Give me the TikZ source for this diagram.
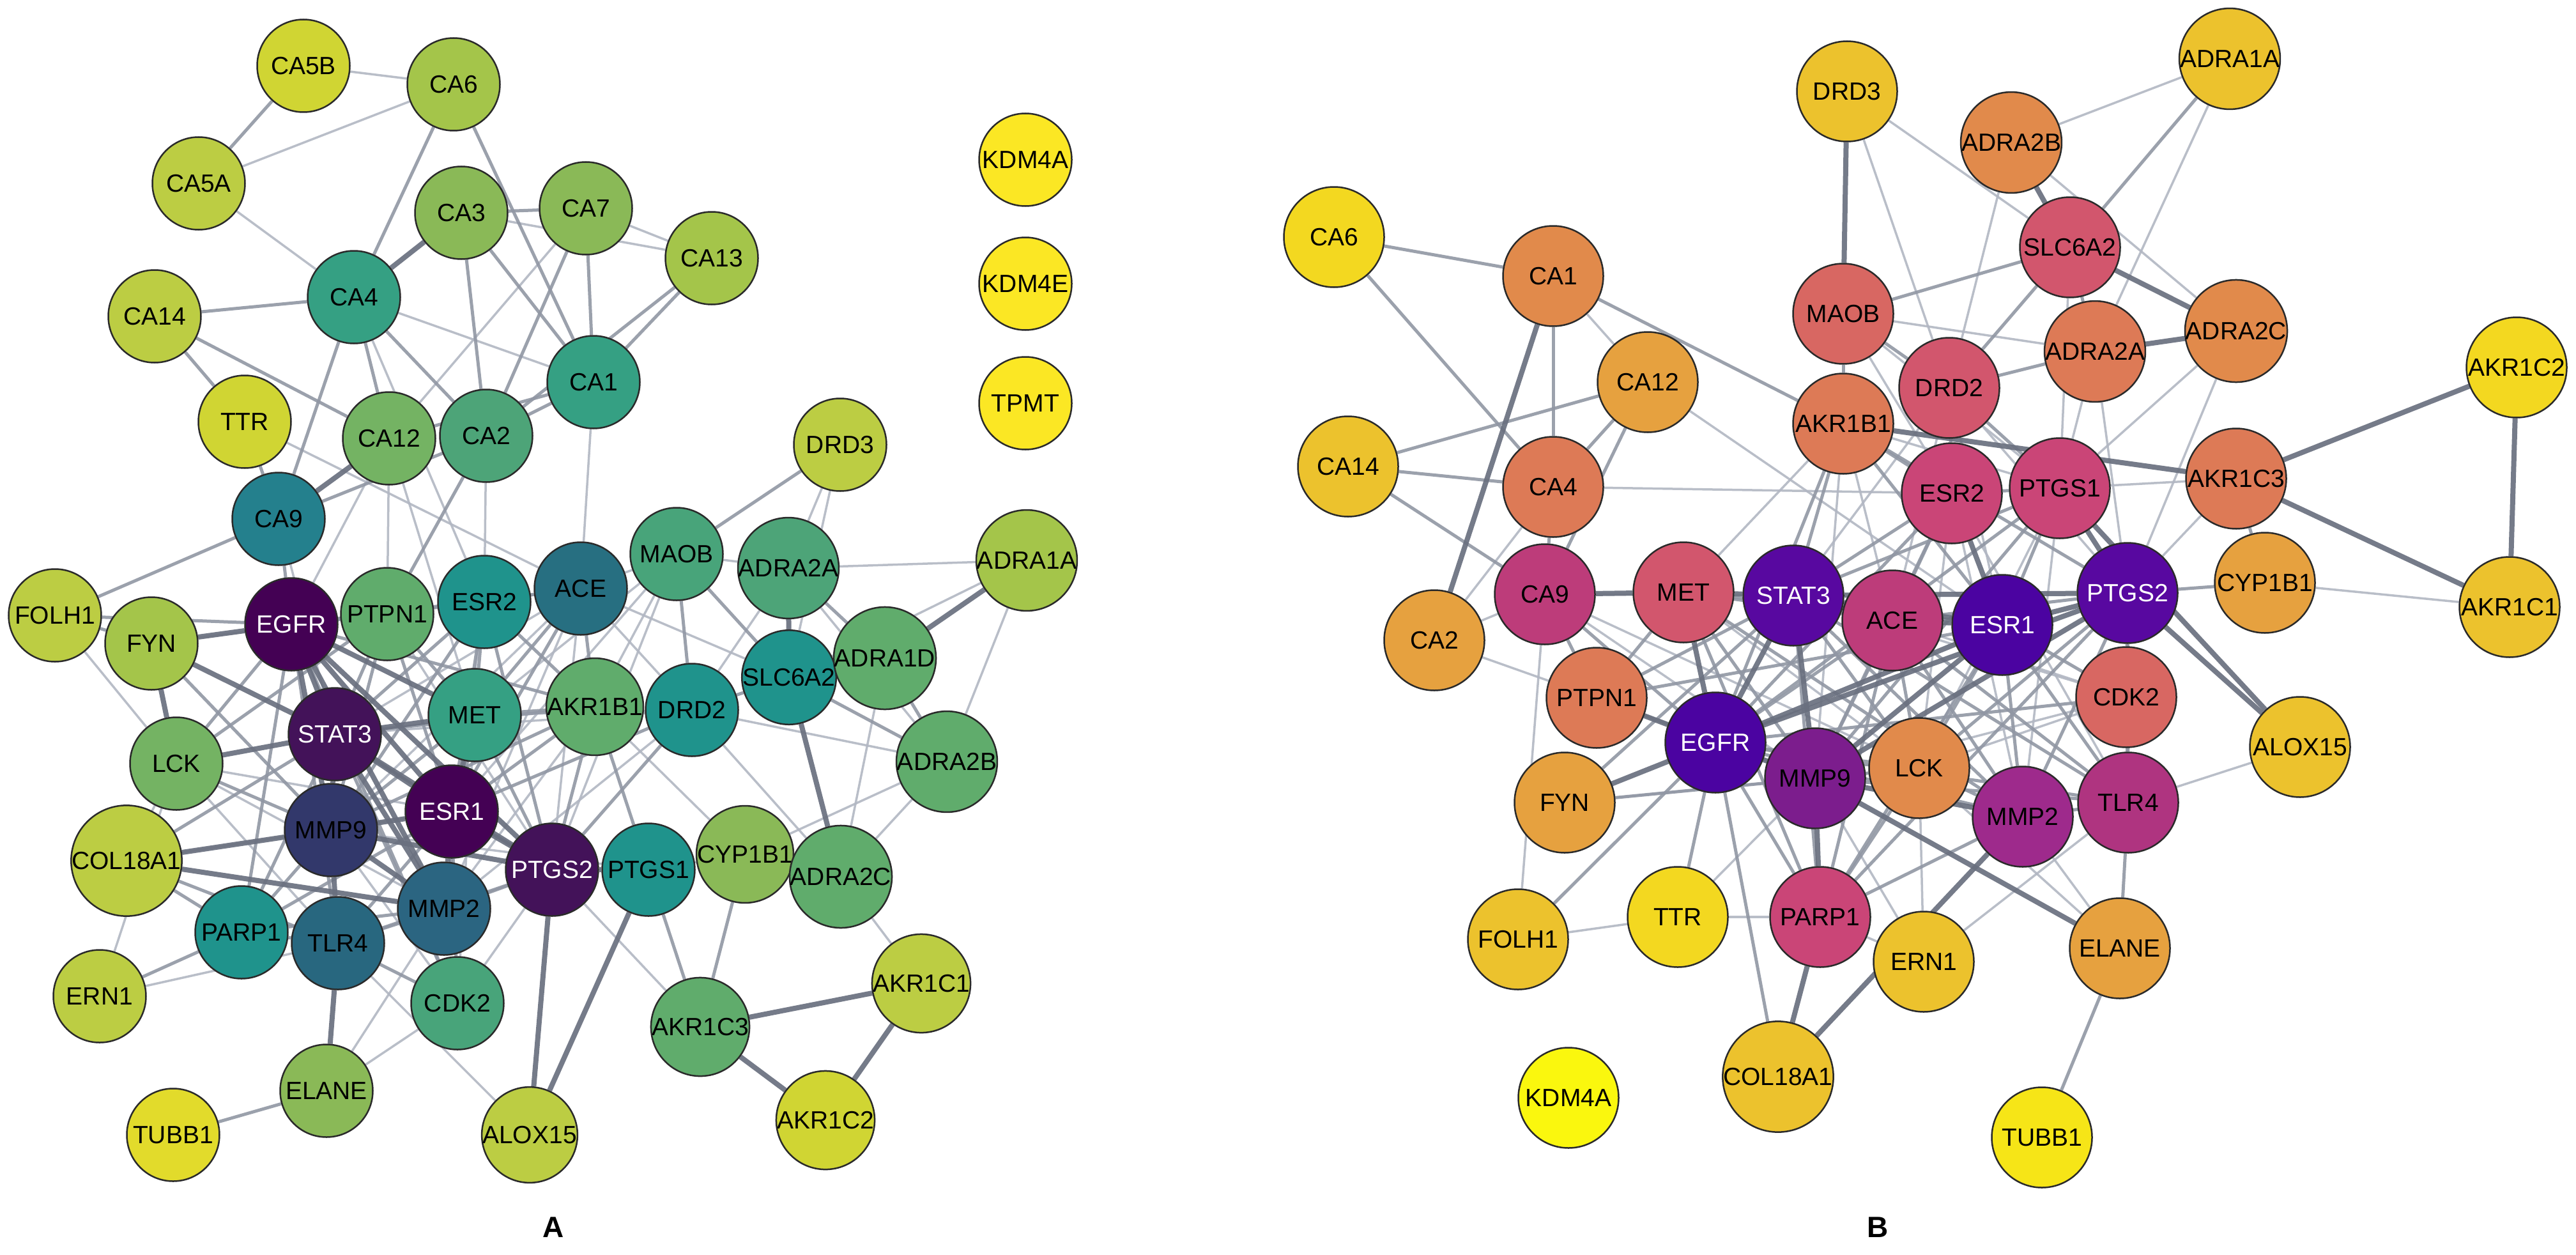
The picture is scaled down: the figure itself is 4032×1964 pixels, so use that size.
\documentclass[tikz,border=0pt]{standalone}
\usepackage{fontspec}
\setmainfont{Liberation Sans}
\newfontfamily\nfam{Liberation Sans}
\newcommand\nfnt{\nfam\fontsize{39}{39}\selectfont}
\newcommand\lfnt{\nfam\bfseries\fontsize{46}{46}\selectfont}
\pgfdeclarelayer{background}
\pgfdeclarelayer{canvas}
\pgfsetlayers{canvas,background,main}
% panel A colours (viridis)
\definecolor{vA}{HTML}{440154}
\definecolor{vB}{HTML}{431259}
\definecolor{vMMP9}{HTML}{32386B}
\definecolor{vMMP2}{HTML}{2B6581}
\definecolor{vACE}{HTML}{276F81}
\definecolor{vTLR4}{HTML}{28677F}
\definecolor{vCA9}{HTML}{24808D}
\definecolor{vTeal}{HTML}{1F938C}
\definecolor{vCA4}{HTML}{35A083}
\definecolor{vCDK2}{HTML}{48A47A}
\definecolor{vCA2}{HTML}{4DA478}
\definecolor{vGr}{HTML}{60AC6C}
\definecolor{vLCK}{HTML}{74B363}
\definecolor{vCA3}{HTML}{8AB957}
\definecolor{vLime}{HTML}{A4C54A}
\definecolor{vOl}{HTML}{BCCD43}
\definecolor{vYl}{HTML}{D0D533}
\definecolor{vTU}{HTML}{E2DB2B}
\definecolor{vKD}{HTML}{FBE724}
% panel B colours (plasma)
\definecolor{pA}{HTML}{4B03A1}
\definecolor{pB}{HTML}{5808A0}
\definecolor{pMMP9}{HTML}{7C1D8D}
\definecolor{pMMP2}{HTML}{9E2A8C}
\definecolor{pTLR4}{HTML}{AF3480}
\definecolor{pCA9}{HTML}{BD3C7A}
\definecolor{pPink}{HTML}{CA4577}
\definecolor{pRose}{HTML}{D2566D}
\definecolor{pSal}{HTML}{D86762}
\definecolor{pCor}{HTML}{DD7A56}
\definecolor{pOr}{HTML}{E18A4B}
\definecolor{pOr2}{HTML}{E6A13F}
\definecolor{pGold}{HTML}{ECC22D}
\definecolor{pYl}{HTML}{F3D820}
\definecolor{pTU}{HTML}{F6E517}
\definecolor{pKD}{HTML}{FAF70E}
\definecolor{nodeline}{HTML}{2A2A2A}
\definecolor{eTc}{RGB}{178,183,195}
\definecolor{eMc}{RGB}{145,151,164}
\definecolor{eKc}{RGB}{106,112,127}
\tikzset{
  nA/.style={circle, draw=nodeline, line width=2.5pt, minimum size=145pt, inner sep=0pt, font=\nfnt, text=black},
  nB/.style={circle, draw=nodeline, line width=2.5pt, minimum size=157pt, inner sep=0pt, font=\nfnt, text=black},
  wt/.style={text=white},
  eT/.style={line width=3.5pt, color=eTc, opacity=0.9},
  eM/.style={line width=5pt, color=eMc, opacity=0.9},
  eK/.style={line width=8pt, color=eKc, opacity=0.92},
  plabel/.style={font=\lfnt, text=black}
}
\begin{document}
\begin{tikzpicture}[x=1pt,y=-1pt]
\useasboundingbox (0,0) rectangle (4032,1964);
\begin{pgfonlayer}{canvas}
\fill[white] (0,0) rectangle (4032,1964);
\end{pgfonlayer}
% ---------------- Panel A nodes ----------------
\node[nA, fill=vYl] (aCA5B) at (475,103) {CA5B};
\node[nA, fill=vLime] (aCA6) at (710,132) {CA6};
\node[nA, fill=vOl] (aCA5A) at (311,287) {CA5A};
\node[nA, fill=vCA3] (aCA3) at (722,333) {CA3};
\node[nA, fill=vCA3] (aCA7) at (917,326) {CA7};
\node[nA, fill=vLime] (aCA13) at (1114,404) {CA13};
\node[nA, fill=vCA4] (aCA4) at (554,465) {CA4};
\node[nA, fill=vOl] (aCA14) at (242,495) {CA14};
\node[nA, fill=vCA4] (aCA1) at (929,598) {CA1};
\node[nA, fill=vYl] (aTTR) at (383,660) {TTR};
\node[nA, fill=vLCK] (aCA12) at (609,686) {CA12};
\node[nA, fill=vCA2] (aCA2) at (761,682) {CA2};
\node[nA, fill=vCA9] (aCA9) at (436,812) {CA9};
\node[nA, fill=vKD] (aKDM4A) at (1605,250) {KDM4A};
\node[nA, fill=vKD] (aKDM4E) at (1605,444) {KDM4E};
\node[nA, fill=vKD] (aTPMT) at (1605,631) {TPMT};
\node[nA, fill=vOl] (aDRD3) at (1315,696) {DRD3};
\node[nA, fill=vCDK2] (aMAOB) at (1059,867) {MAOB};
\node[nA, fill=vCA2] (aADRA2A) at (1234,889) {ADRA2A};
\node[nA, fill=vLime] (aADRA1A) at (1607,877) {ADRA1A};
\node[nA, fill=vOl] (aFOLH1) at (86,963) {FOLH1};
\node[nA, fill=vLime] (aFYN) at (237,1007) {FYN};
\node[nA, fill=vA, wt] (aEGFR) at (456,977) {EGFR};
\node[nA, fill=vGr] (aPTPN1) at (606,961) {PTPN1};
\node[nA, fill=vTeal] (aESR2) at (758,942) {ESR2};
\node[nA, fill=vACE] (aACE) at (909,921) {ACE};
\node[nA, fill=vB, wt] (aSTAT3) at (524,1149) {STAT3};
\node[nA, fill=vCA4] (aMET) at (743,1119) {MET};
\node[nA, fill=vGr] (aAKR1B1) at (931,1106) {AKR1B1};
\node[nA, fill=vTeal] (aSLC6A2) at (1235,1060) {SLC6A2};
\node[nA, fill=vGr] (aADRA1D) at (1385,1030) {ADRA1D};
\node[nA, fill=vTeal] (aDRD2) at (1083,1111) {DRD2};
\node[nA, fill=vGr] (aADRA2B) at (1482,1192) {ADRA2B};
\node[nA, fill=vLCK] (aLCK) at (276,1195) {LCK};
\node[nA, fill=vA, wt] (aESR1) at (707,1270) {ESR1};
\node[nA, fill=vMMP9] (aMMP9) at (518,1299) {MMP9};
\node[nA, fill=vOl] (aCOL18A1) at (198,1347) {COL18A1};
\node[nA, fill=vB, wt] (aPTGS2) at (864,1361) {PTGS2};
\node[nA, fill=vTeal] (aPTGS1) at (1015,1361) {PTGS1};
\node[nA, fill=vCA3] (aCYP1B1) at (1166,1337) {CYP1B1};
\node[nA, fill=vGr] (aADRA2C) at (1316,1372) {ADRA2C};
\node[nA, fill=vMMP2] (aMMP2) at (695,1422) {MMP2};
\node[nA, fill=vTeal] (aPARP1) at (378,1459) {PARP1};
\node[nA, fill=vTLR4] (aTLR4) at (529,1476) {TLR4};
\node[nA, fill=vOl] (aERN1) at (156,1559) {ERN1};
\node[nA, fill=vCDK2] (aCDK2) at (716,1570) {CDK2};
\node[nA, fill=vOl] (aAKR1C1) at (1442,1539) {AKR1C1};
\node[nA, fill=vGr] (aAKR1C3) at (1096,1607) {AKR1C3};
\node[nA, fill=vCA3] (aELANE) at (511,1707) {ELANE};
\node[nA, fill=vTU] (aTUBB1) at (271,1776) {TUBB1};
\node[nA, fill=vOl] (aALOX15) at (829,1776) {ALOX15};
\node[nA, fill=vYl] (aAKR1C2) at (1292,1753) {AKR1C2};
% ---------------- Panel B nodes ----------------
\node[nB, fill=pGold] (bDRD3) at (2891,143) {DRD3};
\node[nB, fill=pGold] (bADRA1A) at (3490,92) {ADRA1A};
\node[nB, fill=pOr] (bADRA2B) at (3148,223) {ADRA2B};
\node[nB, fill=pYl] (bCA6) at (2088,371) {CA6};
\node[nB, fill=pRose] (bSLC6A2) at (3240,387) {SLC6A2};
\node[nB, fill=pOr] (bCA1) at (2431,432) {CA1};
\node[nB, fill=pSal] (bMAOB) at (2885,491) {MAOB};
\node[nB, fill=pOr] (bADRA2C) at (3500,518) {ADRA2C};
\node[nB, fill=pCor] (bADRA2A) at (3279,550) {ADRA2A};
\node[nB, fill=pYl] (bAKR1C2) at (3939,575) {AKR1C2};
\node[nB, fill=pOr2] (bCA12) at (2579,598) {CA12};
\node[nB, fill=pRose] (bDRD2) at (3051,607) {DRD2};
\node[nB, fill=pCor] (bAKR1B1) at (2885,663) {AKR1B1};
\node[nB, fill=pGold] (bCA14) at (2110,730) {CA14};
\node[nB, fill=pCor] (bCA4) at (2431,762) {CA4};
\node[nB, fill=pCor] (bAKR1C3) at (3500,749) {AKR1C3};
\node[nB, fill=pPink] (bPTGS1) at (3224,764) {PTGS1};
\node[nB, fill=pPink] (bESR2) at (3055,772) {ESR2};
\node[nB, fill=pOr2] (bCYP1B1) at (3545,912) {CYP1B1};
\node[nB, fill=pCA9] (bCA9) at (2418,930) {CA9};
\node[nB, fill=pRose] (bMET) at (2635,927) {MET};
\node[nB, fill=pB, wt] (bSTAT3) at (2807,932) {STAT3};
\node[nB, fill=pB, wt] (bPTGS2) at (3330,928) {PTGS2};
\node[nB, fill=pGold] (bAKR1C1) at (3928,950) {AKR1C1};
\node[nB, fill=pCA9] (bACE) at (2962,971) {ACE};
\node[nB, fill=pA, wt] (bESR1) at (3134,978) {ESR1};
\node[nB, fill=pOr2] (bCA2) at (2245,1002) {CA2};
\node[nB, fill=pCor] (bPTPN1) at (2499,1092) {PTPN1};
\node[nB, fill=pSal] (bCDK2) at (3328,1091) {CDK2};
\node[nB, fill=pA, wt] (bEGFR) at (2685,1162) {EGFR};
\node[nB, fill=pGold] (bALOX15) at (3600,1169) {ALOX15};
\node[nB, fill=pOr] (bLCK) at (3004,1202) {LCK};
\node[nB, fill=pMMP9] (bMMP9) at (2841,1218) {MMP9};
\node[nB, fill=pOr2] (bFYN) at (2449,1256) {FYN};
\node[nB, fill=pTLR4] (bTLR4) at (3331,1256) {TLR4};
\node[nB, fill=pMMP2] (bMMP2) at (3166,1278) {MMP2};
\node[nB, fill=pYl] (bTTR) at (2626,1435) {TTR};
\node[nB, fill=pPink] (bPARP1) at (2849,1435) {PARP1};
\node[nB, fill=pGold] (bFOLH1) at (2376,1470) {FOLH1};
\node[nB, fill=pOr2] (bELANE) at (3318,1484) {ELANE};
\node[nB, fill=pGold] (bERN1) at (3011,1505) {ERN1};
\node[nB, fill=pGold] (bCOL18A1) at (2783,1685) {COL18A1};
\node[nB, fill=pKD] (bKDM4A) at (2455,1718) {KDM4A};
\node[nB, fill=pTU] (bTUBB1) at (3196,1780) {TUBB1};
% panel labels
\node[plabel] (labA) at (866,1921) {A};
\node[plabel] (labB) at (2939,1921) {B};
% ---------------- edges ----------------
\begin{pgfonlayer}{background}
% Panel A thin
\foreach \u/\v in {aCA5B/aCA6, aCA5A/aCA6, aCA5A/aCA4, aCA3/aCA13, aCA7/aCA12, aCA4/aCA1, aCA4/aESR2, aTTR/aACE, aCA1/aACE, aCA12/aPTPN1, aCA2/aESR2, aCA9/aSTAT3, aCA12/aMET, aCA7/aCA13, aDRD3/aADRA2A, aDRD3/aSLC6A2, aMAOB/aADRA2A, aADRA2A/aADRA1A, aMAOB/aACE, aMAOB/aAKR1B1, aADRA2A/aDRD2, aADRA2A/aADRA2B, aADRA1A/aSLC6A2, aADRA1A/aADRA2B, aSLC6A2/aACE, aADRA1D/aADRA2C, aADRA2B/aADRA2C, aADRA2B/aCYP1B1, aADRA2B/aDRD2, aDRD2/aADRA2C, aAKR1B1/aCYP1B1, aPTGS1/aCYP1B1, aPTGS2/aAKR1C3, aADRA2C/aAKR1C1, aCYP1B1/aADRA2C, aFOLH1/aLCK, aLCK/aCOL18A1, aLCK/aESR1, aLCK/aTLR4, aERN1/aTLR4, aERN1/aLCK, aELANE/aMMP2, aALOX15/aTLR4, aCDK2/aPTGS2, aACE/aESR2, aACE/aPTGS2, aACE/aSTAT3, aMAOB/aESR1, aDRD2/aMET, aMAOB/aMET, aELANE/aCDK2, aCA12/aEGFR, aACE/aMMP2, aDRD2/aMMP2, aPTGS1/aMMP9, aMMP9/aACE, aMMP2/aAKR1B1, aMMP9/aCDK2, aFYN/aPTPN1, aESR2/aMMP2, aPTPN1/aPTGS2, aACE/aDRD2, aMET/aCDK2, aMAOB/aPTGS2, aCOL18A1/aESR1, aLCK/aMMP2, aDRD2/aSTAT3}
  \draw[eT] (\u) -- (\v);
% Panel A medium
\foreach \u/\v in {aCA5B/aCA5A, aCA6/aCA4, aCA6/aCA1, aCA3/aCA7, aCA3/aCA2, aCA3/aCA1, aCA7/aCA1, aCA7/aCA2, aCA13/aCA1, aCA13/aCA2, aCA4/aCA14, aCA4/aCA2, aCA4/aCA12, aCA4/aCA9, aCA14/aTTR, aCA14/aCA12, aCA2/aCA1, aCA12/aCA1, aCA9/aCA2, aCA2/aPTPN1, aCA9/aFOLH1, aCA9/aTTR, aCA9/aEGFR, aDRD3/aMAOB, aMAOB/aSLC6A2, aMAOB/aDRD2, aADRA2A/aADRA1D, aSLC6A2/aADRA1D, aSLC6A2/aADRA2B, aSLC6A2/aDRD2, aADRA1D/aADRA2B, aAKR1B1/aPTGS1, aPTGS1/aAKR1C3, aCYP1B1/aAKR1C3, aFOLH1/aFYN, aFOLH1/aEGFR, aEGFR/aPTPN1, aEGFR/aLCK, aLCK/aPTPN1, aERN1/aPARP1, aPARP1/aEGFR, aTLR4/aMMP2, aTLR4/aCDK2, aELANE/aTUBB1, aPTGS2/aMMP2, aESR1/aESR2, aESR1/aACE, aESR1/aAKR1B1, aMET/aPTPN1, aMET/aACE, aMET/aESR2, aAKR1B1/aPTGS2, aDRD2/aPTGS2, aPARP1/aTLR4, aPARP1/aMMP9, aPARP1/aESR1, aCDK2/aESR1, aCDK2/aSTAT3, aDRD2/aESR1, aAKR1B1/aMET, aSTAT3/aESR2, aEGFR/aESR2, aTLR4/aPTGS2, aEGFR/aTLR4, aEGFR/aCDK2, aCOL18A1/aTLR4, aCOL18A1/aPARP1, aSTAT3/aPTPN1, aMET/aPTGS2, aEGFR/aAKR1B1, aEGFR/aACE, aSTAT3/aAKR1B1, aMMP9/aMET, aMMP9/aAKR1B1, aMMP2/aMET, aTLR4/aESR1, aPARP1/aSTAT3, aPARP1/aMMP2, aLCK/aMMP9, aFYN/aMMP9, aCOL18A1/aSTAT3, aESR2/aPTGS2, aPTPN1/aESR1, aPTPN1/aMMP9, aAKR1B1/aESR2, aACE/aAKR1B1, aESR2/aMMP9}
  \draw[eM] (\u) -- (\v);
% Panel A thick
\foreach \u/\v in {aCA3/aCA4, aCA9/aCA12, aADRA2A/aSLC6A2, aADRA1A/aADRA1D, aSLC6A2/aADRA2C, aAKR1C3/aAKR1C1, aAKR1C3/aAKR1C2, aAKR1C1/aAKR1C2, aPTGS1/aALOX15, aPTGS2/aALOX15, aFYN/aEGFR, aFYN/aLCK, aFYN/aSTAT3, aEGFR/aSTAT3, aEGFR/aMET, aEGFR/aESR1, aEGFR/aMMP9, aEGFR/aPTGS2, aEGFR/aMMP2, aLCK/aSTAT3, aCOL18A1/aMMP9, aCOL18A1/aMMP2, aMMP9/aTLR4, aMMP9/aMMP2, aMMP9/aESR1, aMMP9/aSTAT3, aMMP9/aPTGS2, aTLR4/aELANE, aSTAT3/aMET, aSTAT3/aESR1, aSTAT3/aMMP2, aSTAT3/aPTGS2, aESR1/aMET, aESR1/aMMP2, aESR1/aPTGS2, aPTGS2/aPTGS1}
  \draw[eK] (\u) -- (\v);
% Panel B thin
\foreach \u/\v in {bCA1/bCA12, bCA12/bESR1, bCA4/bESR2, bCA4/bCA2, bCA9/bCA2, bDRD3/bDRD2, bDRD3/bSLC6A2, bMAOB/bADRA2A, bAKR1B1/bMET, bADRA1A/bADRA2B, bADRA1A/bADRA2A, bADRA2B/bDRD2, bADRA2B/bADRA2C, bSLC6A2/bPTGS1, bADRA2A/bPTGS1, bADRA2A/bPTGS2, bADRA2C/bPTGS1, bADRA2C/bPTGS2, bAKR1C3/bPTGS1, bAKR1C3/bPTGS2, bCYP1B1/bAKR1C1, bCA2/bPTPN1, bCA9/bFOLH1, bFOLH1/bTTR, bTTR/bPARP1, bTTR/bMMP9, bPARP1/bERN1, bERN1/bTLR4, bELANE/bMMP2, bTLR4/bALOX15, bCA9/bLCK, bDRD2/bACE, bMAOB/bESR2, bAKR1B1/bACE, bMAOB/bPTGS1, bAKR1B1/bPTGS1, bDRD2/bSTAT3, bESR2/bMMP2, bPTGS1/bLCK, bERN1/bMMP9, bELANE/bLCK, bCDK2/bMMP9, bCA9/bMMP9, bDRD2/bESR1, bERN1/bLCK, bCDK2/bSTAT3, bACE/bCDK2, bESR2/bTLR4, bPTGS1/bMMP2, bMET/bLCK, bLCK/bCDK2, bAKR1B1/bMMP9, bDRD2/bPTGS2, bCA9/bSTAT3, bFYN/bLCK, bESR2/bLCK}
  \draw[eT] (\u) -- (\v);
% Panel B medium
\foreach \u/\v in {bCA6/bCA1, bCA6/bCA4, bCA1/bCA4, bCA1/bAKR1B1, bCA12/bCA14, bCA12/bCA4, bCA12/bCA9, bCA14/bCA4, bCA14/bCA9, bCA4/bCA9, bMAOB/bSLC6A2, bMAOB/bDRD2, bMAOB/bAKR1B1, bADRA1A/bSLC6A2, bSLC6A2/bDRD2, bSLC6A2/bADRA2A, bADRA2A/bDRD2, bAKR1C3/bCYP1B1, bCYP1B1/bPTGS2, bFYN/bSTAT3, bFOLH1/bEGFR, bTTR/bEGFR, bEGFR/bCOL18A1, bEGFR/bPARP1, bELANE/bTLR4, bELANE/bTUBB1, bTLR4/bMMP2, bTLR4/bCDK2, bCDK2/bESR1, bCDK2/bPTGS2, bPTPN1/bMET, bPTPN1/bSTAT3, bDRD2/bESR2, bDRD2/bPTGS1, bESR2/bPTGS1, bESR2/bACE, bACE/bSTAT3, bACE/bEGFR, bACE/bMMP9, bLCK/bMMP9, bLCK/bEGFR, bLCK/bSTAT3, bLCK/bESR1, bMET/bESR1, bMET/bMMP9, bPARP1/bSTAT3, bPARP1/bESR1, bPARP1/bLCK, bMMP2/bESR1, bMMP2/bPTGS2, bMMP2/bSTAT3, bTLR4/bESR1, bTLR4/bPTGS2, bAKR1B1/bSTAT3, bAKR1B1/bESR1, bPTGS1/bESR1, bESR2/bSTAT3, bCA9/bPTPN1, bFYN/bMMP9, bAKR1B1/bESR2, bMET/bACE, bPTGS1/bSTAT3, bACE/bPTGS2, bACE/bLCK, bACE/bMMP2, bACE/bPARP1, bACE/bTLR4, bESR2/bMMP9, bESR2/bEGFR, bPTGS1/bMMP9, bPTGS1/bEGFR, bMET/bPARP1, bMET/bMMP2, bEGFR/bMMP2, bEGFR/bTLR4, bEGFR/bCDK2, bMMP9/bTLR4, bLCK/bPTGS2, bLCK/bMMP2, bPARP1/bMMP2, bPARP1/bPTGS2, bAKR1B1/bEGFR, bAKR1B1/bPTGS2, bPTPN1/bESR1, bPTPN1/bMMP9, bCA9/bEGFR, bTLR4/bSTAT3}
  \draw[eM] (\u) -- (\v);
% Panel B thick
\foreach \u/\v in {bDRD3/bMAOB, bCA1/bCA2, bCA9/bMET, bMET/bSTAT3, bAKR1B1/bAKR1C3, bADRA2B/bSLC6A2, bSLC6A2/bADRA2C, bADRA2A/bADRA2C, bAKR1C3/bAKR1C2, bAKR1C3/bAKR1C1, bAKR1C2/bAKR1C1, bPTGS1/bPTGS2, bESR2/bESR1, bALOX15/bPTGS2, bPTGS1/bALOX15, bPTPN1/bEGFR, bFYN/bEGFR, bEGFR/bMMP9, bEGFR/bSTAT3, bEGFR/bMET, bEGFR/bESR1, bEGFR/bPTGS2, bPARP1/bCOL18A1, bPARP1/bMMP9, bCOL18A1/bMMP2, bELANE/bMMP9, bSTAT3/bESR1, bSTAT3/bPTGS2, bSTAT3/bMMP9, bESR1/bPTGS2, bESR1/bACE, bMMP9/bESR1, bMMP9/bPTGS2, bMMP9/bMMP2}
  \draw[eK] (\u) -- (\v);
\end{pgfonlayer}
\end{tikzpicture}
\end{document}
